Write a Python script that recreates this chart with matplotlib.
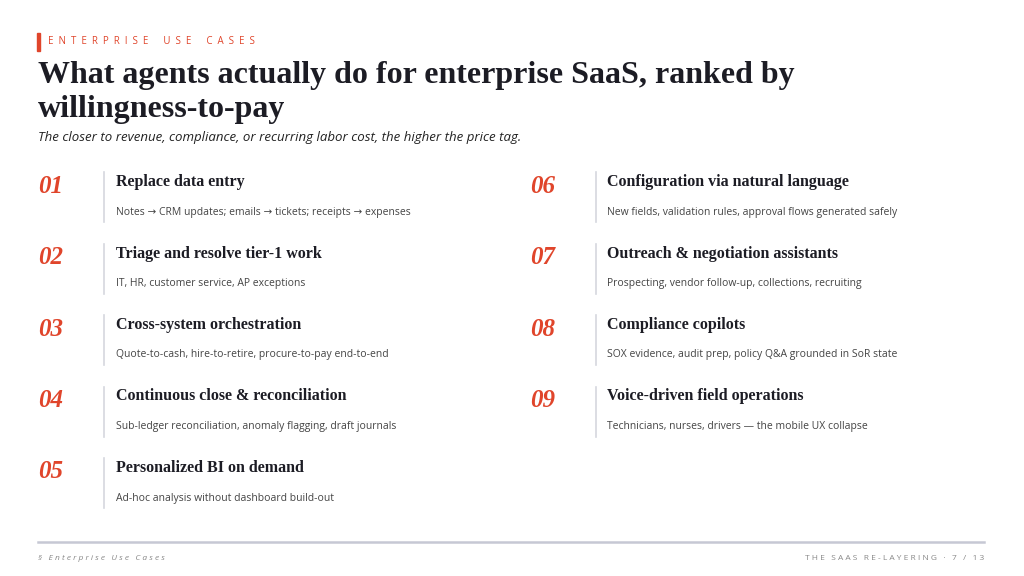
import matplotlib
matplotlib.use("Agg")
import matplotlib.pyplot as plt
from matplotlib.lines import Line2D
from matplotlib.patches import Rectangle

nums = ["01","02","03","04","05","06","07","08","09"]
heads = ["Replace data entry","Triage and resolve tier-1 work","Cross-system orchestration",
         "Continuous close & reconciliation","Personalized BI on demand",
         "Configuration via natural language","Outreach & negotiation assistants",
         "Compliance copilots","Voice-driven field operations"]
subs = ["Notes → CRM updates; emails → tickets; receipts → expenses",
        "IT, HR, customer service, AP exceptions",
        "Quote-to-cash, hire-to-retire, procure-to-pay end-to-end",
        "Sub-ledger reconciliation, anomaly flagging, draft journals",
        "Ad-hoc analysis without dashboard build-out",
        "New fields, validation rules, approval flows generated safely",
        "Prospecting, vendor follow-up, collections, recruiting",
        "SOX evidence, audit prep, policy Q&A grounded in SoR state",
        "Technicians, nurses, drivers — the mobile UX collapse"]

W, H = 1024, 576
fig = plt.figure(figsize=(W/100, H/100), dpi=100)
fig.patch.set_facecolor("white")
RED = "#e0452b"; DARK = "#1c1c24"; GREY = "#444444"
SERIF = "Liberation Serif"; SANS = ["Open Sans", "DejaVu Sans"]

def X(x): return x / W
def Y(y): return 1 - y / H

def spaced(s, n=1):
    return (" " * n).join(s)

fig.patches.append(Rectangle((X(37), Y(51)), 3/W, 18/H, transform=fig.transFigure, color=RED))
fig.text(X(48), Y(42), spaced("ENTERPRISE USE CASES", 2).replace("     ", "      "), color=RED,
         fontsize=7, family=SANS, va="center")
fig.text(X(38), Y(75), "What agents actually do for enterprise SaaS, ranked by", color=DARK,
         fontsize=23, weight="bold", family=SERIF, va="center")
fig.text(X(38), Y(110), "willingness-to-pay", color=DARK,
         fontsize=23, weight="bold", family=SERIF, va="center")
fig.text(X(38), Y(138), "The closer to revenue, compliance, or recurring labor cost, the higher the price tag.",
         color="#222222", fontsize=9.5, style="italic", family=SANS, va="center")

for i, (n, h, s) in enumerate(zip(nums, heads, subs)):
    col, row = (0, i) if i < 5 else (1, i - 5)
    nx = 38 if col == 0 else 530
    lx = 104 if col == 0 else 596
    tx = 116 if col == 0 else 607
    yc = 186 + row * 71.5
    fig.text(X(nx), Y(yc), n, color=RED, fontsize=18, weight="bold", style="italic",
             family=SERIF, va="center")
    fig.lines.append(Line2D([X(lx), X(lx)], [Y(yc - 14), Y(yc + 36)], transform=fig.transFigure,
                            color="#d5d7de", lw=1.2))
    fig.text(X(tx), Y(yc - 4), h, color=DARK, fontsize=11.5, weight="bold", family=SERIF, va="center")
    fig.text(X(tx), Y(yc + 26), s, color=GREY, fontsize=7.5, family=SANS, va="center")

fig.lines.append(Line2D([X(38), X(984)], [Y(542), Y(542)], transform=fig.transFigure,
                        color="#c6c8d4", lw=1.8))
fig.text(X(38), Y(559), spaced("§ Enterprise Use Cases"), color="#888888", fontsize=6,
         style="italic", family=SANS, va="center")
fig.text(X(984), Y(559), spaced("THE SAAS RE-LAYERING · 7 / 13"), color="#888888", fontsize=6,
         family=SANS, va="center", ha="right")

fig.savefig("out.png", dpi=100, facecolor="white")
